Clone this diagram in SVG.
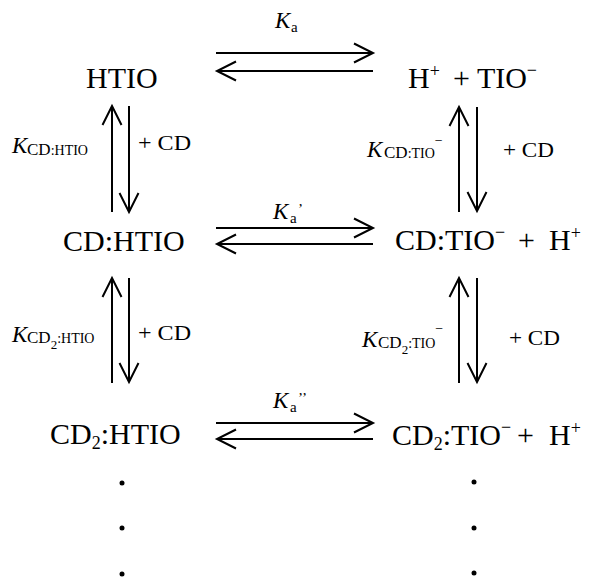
<svg xmlns="http://www.w3.org/2000/svg" width="590" height="577" viewBox="0 0 590 577">
<style>
text{font-family:"Liberation Serif","Times New Roman",serif;fill:#000}
.m{font-size:30px}
.sup{font-size:18px}
.k{font-size:23px;font-style:italic}
.s1{font-size:17px;font-style:normal}
.s2{font-size:14px;font-style:normal}
.s3{font-size:13px;font-style:normal}
.cd{font-size:22px}
.ka{font-size:15px;font-style:normal}
.ar{stroke:#000;stroke-width:2;fill:none}
</style>
<defs>
<marker id="ah" markerUnits="userSpaceOnUse" markerWidth="24" markerHeight="24" viewBox="-2 -2 24 24" refX="20" refY="10" orient="auto" overflow="visible">
<path d="M1,0.5 L20,10 L1,19.5" stroke="#000" stroke-width="2" fill="none"/>
</marker>
</defs>
<g id="connectors">
<line class="ar" x1="216" y1="53" x2="373" y2="53" marker-end="url(#ah)"/>
<line class="ar" x1="373" y1="71" x2="217" y2="71" marker-end="url(#ah)"/>
<line class="ar" x1="216" y1="228" x2="373" y2="228" marker-end="url(#ah)"/>
<line class="ar" x1="373" y1="244" x2="217" y2="244" marker-end="url(#ah)"/>
<line class="ar" x1="216" y1="423" x2="373" y2="423" marker-end="url(#ah)"/>
<line class="ar" x1="373" y1="439" x2="217" y2="439" marker-end="url(#ah)"/>
<line class="ar" x1="112" y1="212" x2="112" y2="106" marker-end="url(#ah)"/>
<line class="ar" x1="129" y1="106" x2="129" y2="212" marker-end="url(#ah)"/>
<line class="ar" x1="459" y1="212" x2="459" y2="107" marker-end="url(#ah)"/>
<line class="ar" x1="477" y1="107" x2="477" y2="211" marker-end="url(#ah)"/>
<line class="ar" x1="112" y1="383" x2="112" y2="278" marker-end="url(#ah)"/>
<line class="ar" x1="129" y1="278" x2="129" y2="382" marker-end="url(#ah)"/>
<line class="ar" x1="459" y1="383" x2="459" y2="278" marker-end="url(#ah)"/>
<line class="ar" x1="477" y1="278" x2="477" y2="382" marker-end="url(#ah)"/>
<text class="k" x="275" y="28">K<tspan class="ka" x="291" y="32">a</tspan></text>
<text class="k" x="273" y="219">K<tspan class="ka" x="290" y="223">a</tspan><tspan class="ka" x="298" y="214">’</tspan></text>
<text class="k" x="273" y="408">K<tspan class="ka" x="290" y="412">a</tspan><tspan class="ka" x="298" y="403">’’</tspan></text>
<text class="k" x="12" y="153">K<tspan class="s1" x="27" y="155">CD</tspan><tspan class="s2">:HTIO</tspan></text>
<text class="cd" x="138" y="150" textLength="53" lengthAdjust="spacingAndGlyphs">+ CD</text>
<text class="k" x="367" y="157">K<tspan class="s1" x="384" y="158">CD</tspan><tspan class="s2">:TIO</tspan><tspan class="s2" y="145">−</tspan></text>
<text class="cd" x="503" y="157" textLength="51" lengthAdjust="spacingAndGlyphs">+ CD</text>
<text class="k" x="12" y="342">K<tspan class="s1" x="27" y="343">CD</tspan><tspan class="s3" y="349">2</tspan><tspan class="s2" y="343">:HTIO</tspan></text>
<text class="cd" x="138" y="340" textLength="53" lengthAdjust="spacingAndGlyphs">+ CD</text>
<text class="k" x="362" y="347">K<tspan class="s1" x="378" y="348">CD</tspan><tspan class="s3" y="354">2</tspan><tspan class="s2" y="348">:TIO</tspan><tspan class="s2" y="333">−</tspan></text>
<text class="cd" x="509" y="345" textLength="51" lengthAdjust="spacingAndGlyphs">+ CD</text>
</g>
<g id="n-htio"><text class="m" x="86" y="88">HTIO</text></g>
<g id="n-h-tio"><text class="m" x="408" y="88">H<tspan class="sup" y="77">+</tspan><tspan x="453" y="88">+ TIO</tspan><tspan class="sup" y="76">−</tspan></text></g>
<g id="n-cd-htio"><text class="m" x="63" y="251">CD:HTIO</text></g>
<g id="n-cd-tio"><text class="m" x="395" y="250">CD:TIO<tspan class="sup" y="238">−</tspan><tspan x="518" y="250">+</tspan><tspan x="549" y="250">H</tspan><tspan class="sup" y="239">+</tspan></text></g>
<g id="n-cd2-htio"><text class="m" x="50" y="444">CD<tspan class="sup" y="449">2</tspan><tspan y="444">:HTIO</tspan></text></g>
<g id="n-cd2-tio"><text class="m" x="392" y="445">CD<tspan class="sup" y="450">2</tspan><tspan y="445">:TIO</tspan><tspan class="sup" y="433">−</tspan><tspan x="517" y="445">+</tspan><tspan x="549" y="445">H</tspan><tspan class="sup" y="434">+</tspan></text></g>
<g id="dots">
<circle cx="122" cy="483" r="2.5"/><circle cx="122" cy="528" r="2.5"/><circle cx="122" cy="574" r="2.5"/>
<circle cx="474" cy="482" r="2.5"/><circle cx="474" cy="528" r="2.5"/><circle cx="474" cy="573" r="2.5"/>
</g>
</svg>
